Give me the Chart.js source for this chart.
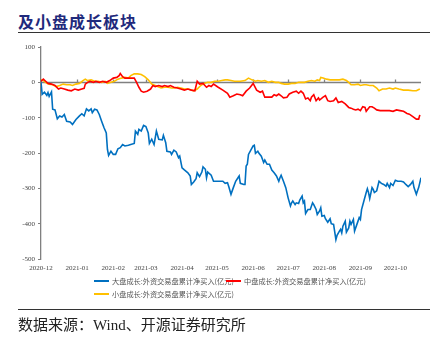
<!DOCTYPE HTML>
<html>
<head>
  <meta charset="utf-8">
  <title>外资交易盘累计净买入</title>
  <script src="https://cdn.jsdelivr.net/npm/chart.js"></script>
  <style>
    body { margin: 0; width: 443px; height: 347px; background: #fff; position: relative; overflow: hidden; }
    .title { position: absolute; left: 18px; top: 9px; font: bold 16px "Noto Sans CJK SC"; letter-spacing: 1px; color: #1f2a7c; }
    .rule { position: absolute; left: 18px; width: 412px; height: 0; border-top: 1.5px solid #333; }
    #chart { position: absolute; left: 0; top: 36px; }
    #legend { position: absolute; left: 94px; top: 274px; width: 264px; display: flex; flex-wrap: wrap; }
    .item { width: 132px; height: 13px; display: flex; align-items: center; font: 7.2px "Noto Sans CJK SC"; color: #555; white-space: nowrap; }
    .swatch { flex: 0 0 15px; height: 2px; margin-right: 3px; }
    .source { position: absolute; left: 18px; top: 313px; font: 15px "Liberation Serif", "Noto Sans CJK SC"; color: #222; }
  </style>
</head>
<body>
  <div class="title">及小盘成长板块</div>
  <div class="rule" style="top:32px"></div>
  <canvas id="chart" width="443" height="240"></canvas>
  <div id="legend"></div>
  <div class="rule" style="top:309px"></div>
  <div class="source">数据来源：Wind、开源证券研究所</div>
  <script>
    // x = days since 2020-12-01, y = 亿元
    const monthLabels = ['2020-12', '2021-01', '2021-02', '2021-03', '2021-04', '2021-05',
                         '2021-06', '2021-07', '2021-08', '2021-09', '2021-10'];
    const yTicks = [100, 0, -100, -200, -300, -400, -500];
    const seriesNames = ['大盘成长:外资交易盘累计净买入(亿元)', '中盘成长:外资交易盘累计净买入(亿元)', '小盘成长:外资交易盘累计净买入(亿元)'];
    const seriesColors = ['#0070c0', '#ff0000', '#ffc000'];

    const largeGrowth = [[0,0],[1,-34],[3,-28],[5,-37],[6,-29],[7,-40],[9,-27],[10,-76],[12,-78],[14,-103],[16,-95],[18,-98],[20,-91],[22,-110],[25,-112],[27,-119],[30,-105],[33,-95],[35,-89],[37,-95],[39,-75],[41,-81],[43,-75],[44,-86],[46,-76],[48,-78],[50,-91],[52,-110],[54,-128],[56,-143],[57,-190],[58,-207],[60,-195],[62,-204],[64,-204],[66,-188],[68,-185],[70,-176],[72,-180],[75,-178],[77,-176],[80,-173],[81,-138],[83,-147],[84,-133],[86,-138],[88,-122],[90,-125],[92,-143],[93,-173],[95,-161],[97,-176],[99,-138],[101,-161],[104,-163],[105,-150],[107,-171],[108,-195],[111,-197],[112,-204],[114,-192],[116,-197],[118,-213],[119,-209],[121,-242],[123,-248],[126,-256],[128,-265],[129,-289],[131,-282],[133,-273],[134,-256],[136,-267],[138,-254],[139,-239],[141,-246],[142,-270],[143,-254],[146,-263],[148,-280],[151,-280],[154,-280],[156,-280],[158,-286],[160,-284],[161,-294],[163,-317],[165,-298],[167,-280],[169,-270],[170,-265],[171,-286],[174,-289],[175,-289],[176,-237],[177,-232],[178,-204],[180,-192],[182,-180],[183,-178],[184,-201],[186,-195],[187,-201],[189,-209],[191,-227],[192,-220],[194,-232],[196,-232],[198,-248],[200,-256],[202,-265],[204,-280],[205,-270],[206,-263],[208,-280],[210,-298],[212,-327],[214,-350],[215,-341],[216,-336],[218,-346],[219,-341],[221,-343],[222,-333],[224,-322],[225,-341],[226,-336],[227,-371],[229,-360],[231,-360],[233,-341],[234,-346],[236,-360],[237,-374],[239,-364],[240,-355],[241,-379],[243,-377],[244,-386],[246,-396],[248,-386],[249,-400],[251,-402],[253,-445],[254,-433],[256,-421],[257,-416],[258,-426],[259,-407],[261,-393],[262,-424],[264,-412],[265,-393],[266,-402],[268,-388],[269,-421],[271,-402],[273,-383],[274,-388],[275,-360],[277,-336],[279,-312],[280,-301],[281,-312],[282,-329],[284,-298],[285,-303],[286,-312],[288,-307],[290,-280],[292,-286],[294,-289],[296,-294],[297,-286],[299,-298],[300,-286],[302,-292],[304,-277],[306,-280],[309,-280],[311,-282],[313,-289],[315,-295],[317,-289],[319,-280],[320,-298],[322,-317],[323,-307],[324,-298],[326,-270]];

    const midGrowth = [[0,3],[2,9],[4,3],[6,-3],[9,-5],[12,-9],[15,-19],[17,-16],[20,-19],[23,-22],[26,-24],[29,-19],[32,-22],[35,-19],[37,-17],[38,-5],[40,0],[42,3],[45,0],[47,3],[50,0],[53,3],[56,0],[59,5],[62,12],[65,14],[67,19],[68,25],[70,16],[72,12],[76,12],[80,12],[82,0],[84,-14],[86,-25],[88,-28],[91,-25],[94,-19],[96,-9],[98,-12],[101,-9],[104,-12],[106,-9],[109,-12],[111,-9],[114,-14],[117,-16],[120,-19],[123,-22],[126,-19],[129,-22],[132,-24],[134,3],[136,-5],[139,-3],[142,-14],[144,-9],[146,-12],[148,-5],[152,-14],[156,-22],[160,-31],[162,-42],[165,-38],[168,-33],[171,-35],[173,-38],[176,-25],[179,-16],[182,-3],[183,-9],[185,-22],[188,-28],[190,-25],[192,-42],[195,-42],[198,-42],[200,-35],[202,-38],[204,-33],[206,-38],[208,-44],[211,-42],[213,-33],[216,-28],[219,-25],[221,-31],[223,-25],[225,-31],[227,-47],[229,-44],[231,-52],[232,-42],[234,-35],[236,-52],[238,-44],[239,-50],[242,-42],[244,-38],[246,-52],[248,-54],[251,-52],[253,-44],[255,-57],[258,-54],[261,-61],[264,-71],[266,-73],[268,-76],[270,-78],[272,-76],[274,-80],[276,-69],[278,-71],[279,-82],[282,-69],[284,-69],[286,-73],[288,-78],[291,-80],[295,-80],[299,-80],[302,-82],[305,-78],[308,-80],[311,-82],[314,-88],[316,-90],[319,-97],[322,-104],[324,-104],[325,-92]];

    const smallGrowth = [[0,7],[2,5],[5,-3],[7,-5],[10,-7],[13,-12],[16,-9],[19,-5],[22,-7],[25,-7],[27,-9],[30,-5],[33,-3],[36,5],[38,9],[40,5],[43,7],[46,3],[49,3],[52,0],[55,3],[57,-3],[60,0],[63,3],[66,9],[69,12],[72,14],[75,12],[77,19],[80,24],[83,24],[86,22],[89,16],[92,7],[95,-5],[98,-9],[100,-12],[103,-16],[106,-14],[109,-14],[112,-16],[115,-16],[117,-14],[120,-16],[123,-19],[126,-19],[129,-22],[131,-24],[134,-19],[137,-9],[140,-3],[143,0],[146,0],[149,3],[152,3],[155,5],[158,7],[160,7],[163,5],[166,3],[171,3],[175,5],[178,12],[181,7],[184,3],[186,5],[189,3],[192,5],[195,0],[198,3],[201,0],[204,0],[206,-3],[209,-5],[212,-5],[215,-3],[218,-3],[221,0],[224,0],[226,0],[229,3],[232,5],[235,3],[237,7],[239,5],[240,14],[242,12],[245,9],[248,7],[251,7],[254,7],[256,7],[259,9],[262,5],[264,0],[266,-7],[269,-7],[272,-5],[274,-9],[277,-7],[279,-7],[282,-9],[285,-9],[288,-16],[290,-24],[293,-19],[296,-19],[299,-16],[302,-19],[304,-16],[307,-19],[311,-22],[315,-22],[319,-24],[322,-24],[325,-19]];

    const base = Date.UTC(2020, 11, 1);
    const monthDays = monthLabels.map(l => {
      const [yy, mm] = l.split('-').map(Number);
      return (Date.UTC(yy, mm - 1, 1) - base) / 864e5;
    });

    // zero line with small month ticks
    const zeroLine = {
      id: 'zeroLine',
      beforeDatasetsDraw(chart) {
        const { ctx, chartArea, scales: { x, y } } = chart;
        const y0 = Math.round(y.getPixelForValue(0)) + 0.5;
        ctx.save();
        ctx.strokeStyle = '#808080';
        ctx.lineWidth = 1.3;
        ctx.beginPath();
        ctx.moveTo(chartArea.left, y0);
        ctx.lineTo(chartArea.right, y0);
        x.ticks.forEach(t => {
          const px = Math.round(x.getPixelForValue(t.value)) + 0.5;
          ctx.moveTo(px, y0);
          ctx.lineTo(px, y0 - 3);
        });
        ctx.stroke();
        ctx.restore();
      }
    };

    const tickFont = { family: 'Liberation Serif', size: 7 };
    const chart = new Chart(document.getElementById('chart'), {
      type: 'line',
      data: {
        datasets: [largeGrowth, midGrowth, smallGrowth].map((d, i) => ({
          label: seriesNames[i],
          data: d,
          borderColor: seriesColors[i],
          backgroundColor: seriesColors[i],
          borderWidth: 1.6,
          pointRadius: 0,
          tension: 0
        }))
      },
      options: {
        responsive: false,
        animation: false,
        layout: { padding: { top: 11, right: 22, left: 0, bottom: 0 } },
        plugins: { legend: { display: false }, tooltip: { enabled: false } },
        scales: {
          x: {
            type: 'linear',
            min: 0,
            max: 326,
            afterBuildTicks: s => { s.ticks = monthDays.map(v => ({ value: v })); },
            afterFit: s => { s.height = 17; },
            grid: { display: false, drawTicks: false },
            border: { display: false },
            ticks: {
              autoSkip: false, maxRotation: 0, padding: 5,
              font: tickFont, color: '#444',
              callback: (v, i) => monthLabels[i]
            }
          },
          y: {
            min: -500,
            max: 100,
            afterBuildTicks: s => { s.ticks = yTicks.map(v => ({ value: v })); },
            afterFit: s => { s.width = 41; },
            grid: { drawOnChartArea: false, drawTicks: true, tickLength: 3, color: '#808080' },
            border: { display: true, color: '#808080', width: 1.3 },
            ticks: { padding: 3, font: tickFont, color: '#444' }
          }
        }
      },
      plugins: [zeroLine]
    });

    // legend laid out like the original
    const legend = document.getElementById('legend');
    chart.data.datasets.forEach(ds => {
      const item = document.createElement('div');
      item.className = 'item';
      item.innerHTML = '<span class="swatch" style="background:' + ds.borderColor + '"></span>' + ds.label;
      legend.appendChild(item);
    });
  </script>
</body>
</html>
